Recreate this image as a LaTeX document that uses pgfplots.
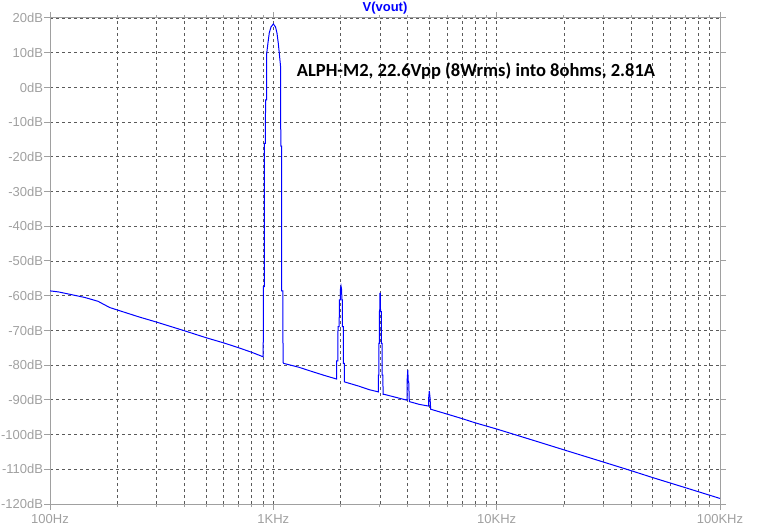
\documentclass[border=0pt]{standalone}
\usepackage{fontspec}
\setmainfont{Liberation Sans}
\newfontfamily\carlito{Carlito}
\usepackage{pgfplots}
\pgfplotsset{compat=1.18}
\definecolor{ltgray}{RGB}{160,160,160}
\definecolor{gridgray}{RGB}{90,90,90}
\begin{document}
\begin{tikzpicture}
\path[use as bounding box] (0pt,0pt) rectangle (778pt,530pt);
\begin{axis}[
  at={(50pt,26pt)}, anchor=south west,
  scale only axis, width=670pt, height=486pt,
  xmode=log, xmin=100, xmax=100000, ymin=-120, ymax=20,
  xtick={100,1000,10000,100000},
  xticklabels={100Hz,1KHz,10KHz,100KHz},
  ytick={-120,-110,-100,-90,-80,-70,-60,-50,-40,-30,-20,-10,0,10,20},
  yticklabels={-120dB,-110dB,-100dB,-90dB,-80dB,-70dB,-60dB,-50dB,-40dB,-30dB,-20dB,-10dB,0dB,10dB,20dB},
  xmajorgrids, xminorgrids, ymajorgrids,
  major grid style={gridgray, line width=0.8pt, dash pattern=on 3pt off 3pt},
  minor grid style={gridgray, line width=0.8pt, dash pattern=on 3pt off 3pt},
  axis line style={ltgray, line width=1pt},
  tick style={ltgray, line width=1pt},
  tick align=outside,
  major tick length=6pt, minor tick length=3pt,
  ticklabel style={text=ltgray, font=\fontsize{13}{15}\selectfont},
  yticklabel style={xshift=2.5pt},
  xticklabel style={yshift=-1pt},
]
\addplot[blue, line width=1pt] coordinates {
(100,-58.6)(109,-58.9)(125,-59.7)(143,-60.5)(164,-61.6)(185,-63.4)(200,-64.1)(250,-66.1)(300,-67.6)(400,-70.1)(500,-72.1)(600,-73.6)(700,-75.0)(800,-76.3)(901,-77.6)
(902,-57.4)(911,-57.4)(911.5,-16.1)(922,-16.1)(922.5,-3.6)(933,-3.6)(934,9.8)(946,12.8)(959,15.7)(976,17.4)(1000,18.3)(1023,17.4)(1038,15.7)(1052,12.8)(1063,9.9)(1079,5.6)(1079.5,-16.9)(1090,-16.9)(1090.5,-58.6)(1104,-58.6)(1105,-79.2)
(1113,-79.5)(1300,-80.6)(1500,-81.9)(1700,-83.0)(1920,-84.0)
(1921,-78.8)(1947,-78.8)(1948,-68.9)(1973,-68.9)(1974,-61.2)(1994,-61.2)(1995,-58.4)(2009,-57.2)(2024,-58.4)(2025,-61.2)(2036,-61.2)(2037,-68.9)(2057,-68.9)(2058,-79.5)(2079,-79.5)(2080,-84.8)
(2101,-84.9)(2400,-86.0)(2700,-87.1)(2950,-87.7)
(2951,-82.9)(2971,-82.9)(2972,-73.7)(2985,-73.7)(2986,-64.6)(2995,-64.6)(3000,-59.3)(3012,-59.3)(3020,-64.6)(3043,-64.6)(3044,-73.7)(3066,-73.7)(3067,-82.9)(3097,-82.9)(3098,-88.4)
(3130,-88.4)(3500,-89.2)(3968,-90.1)
(3969,-84.8)(4000,-81.4)(4020,-84.8)(4038,-84.8)(4063,-90.5)
(4500,-91.3)(4962,-91.8)
(4963,-89.3)(4993,-87.4)(5029,-89.3)(5065,-92.7)
(6000,-94.1)(7000,-95.4)(8000,-96.6)(10000,-98.4)(15000,-101.9)(20000,-104.4)(30000,-107.9)(40000,-110.4)(50000,-112.4)(70000,-115.3)(100000,-118.4)
};
\end{axis}
\node[text=blue, font=\bfseries\fontsize{13}{15}\selectfont] at (385pt,521.5pt) {V(vout)};
\node[anchor=west, inner sep=0pt, font=\carlito\bfseries\fontsize{18.5}{20}\selectfont] at (296.7pt,459.3pt) {ALPH-M2, 22.6Vpp (8Wrms) into 8ohms, 2.81A};
\end{tikzpicture}
\end{document}
